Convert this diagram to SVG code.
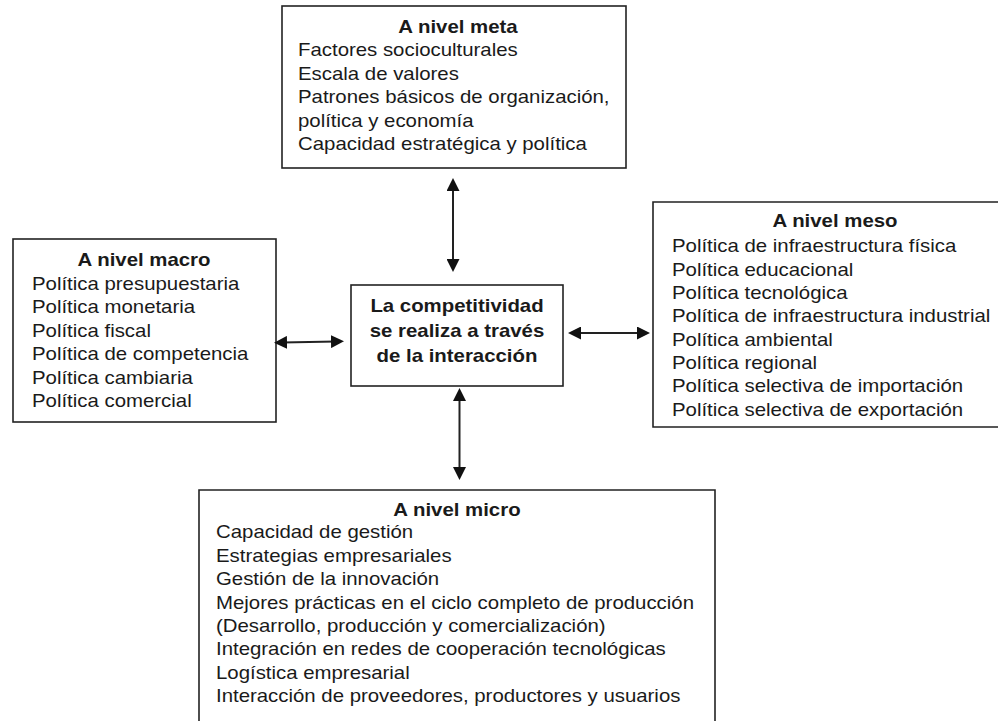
<svg xmlns="http://www.w3.org/2000/svg" width="998" height="721" viewBox="0 0 998 721">
<style>
.box{fill:#fff;stroke:#222;stroke-width:1.6}
.t{font-family:"Liberation Sans",Arial,sans-serif;font-size:18px;fill:#1a1a1a}
.b{font-weight:bold;text-anchor:middle}
.c{stroke:#222;stroke-width:2;fill:none;marker-start:url(#ah);marker-end:url(#ah)}
</style>
<defs>
<marker id="ah" viewBox="0 0 10 10" refX="3.85" refY="5" markerWidth="13" markerHeight="13" markerUnits="userSpaceOnUse" orient="auto-start-reverse">
<path d="M0,0 L10,5 L0,10 z" fill="#111"/>
</marker>
</defs>
<rect width="998" height="721" fill="#fff"/>

<g id="meta">
<rect class="box" x="282" y="6" width="344" height="162"/>
<g class="t" transform="translate(298,0) scale(1.133,1)">
<text class="b" x="141.2" y="33">A nivel meta</text>
<text x="0" y="56.5">Factores socioculturales</text>
<text x="0" y="80">Escala de valores</text>
<text x="0" y="103.5">Patrones básicos de organización,</text>
<text x="0" y="127">política y economía</text>
<text x="0" y="150.5">Capacidad estratégica y política</text>
</g>
</g>

<g id="macro">
<rect class="box" x="13" y="239" width="263" height="183"/>
<g class="t" transform="translate(32,0) scale(1.133,1)">
<text class="b" x="98.9" y="266">A nivel macro</text>
<text x="0" y="290">Política presupuestaria</text>
<text x="0" y="313.5">Política monetaria</text>
<text x="0" y="337">Política fiscal</text>
<text x="0" y="360.5">Política de competencia</text>
<text x="0" y="384">Política cambiaria</text>
<text x="0" y="407">Política comercial</text>
</g>
</g>

<g id="center">
<rect class="box" x="351" y="285" width="212" height="101"/>
<g class="t" transform="translate(457,0) scale(1.133,1)">
<text class="b" x="0" y="312">La competitividad</text>
<text class="b" x="0" y="337">se realiza a través</text>
<text class="b" x="0" y="362">de la interacción</text>
</g>
</g>

<g id="meso">
<path class="box" d="M998,202 H653 V427 H998"/>
<g class="t" transform="translate(672,0) scale(1.133,1)">
<text class="b" x="143.9" y="227.5">A nivel meso</text>
<text x="0" y="252.5">Política de infraestructura física</text>
<text x="0" y="275.8">Política educacional</text>
<text x="0" y="299.1">Política tecnológica</text>
<text x="0" y="322.4">Política de infraestructura industrial</text>
<text x="0" y="345.7">Política ambiental</text>
<text x="0" y="369">Política regional</text>
<text x="0" y="392.3">Política selectiva de importación</text>
<text x="0" y="415.6">Política selectiva de exportación</text>
</g>
</g>

<g id="micro">
<path class="box" d="M199,722 V490 H715 V722"/>
<g class="t" transform="translate(216,0) scale(1.133,1)">
<text class="b" x="212.7" y="516.5">A nivel micro</text>
<text x="0" y="538.5">Capacidad de gestión</text>
<text x="0" y="562">Estrategias empresariales</text>
<text x="0" y="585.3">Gestión de la innovación</text>
<text x="0" y="608.7">Mejores prácticas en el ciclo completo de producción</text>
<text x="0" y="632">(Desarrollo, producción y comercialización)</text>
<text x="0" y="655.4">Integración en redes de cooperación tecnológicas</text>
<text x="0" y="678.7">Logística empresarial</text>
<text x="0" y="702">Interacción de proveedores, productores y usuarios</text>
</g>
</g>

<g id="connectors">
<line class="c" x1="453" y1="186" x2="453" y2="264"/>
<line class="c" x1="282" y1="342.5" x2="336" y2="341.5"/>
<line class="c" x1="576" y1="333" x2="642" y2="333"/>
<line class="c" x1="459.5" y1="396" x2="459.5" y2="472"/>
</g>
</svg>
